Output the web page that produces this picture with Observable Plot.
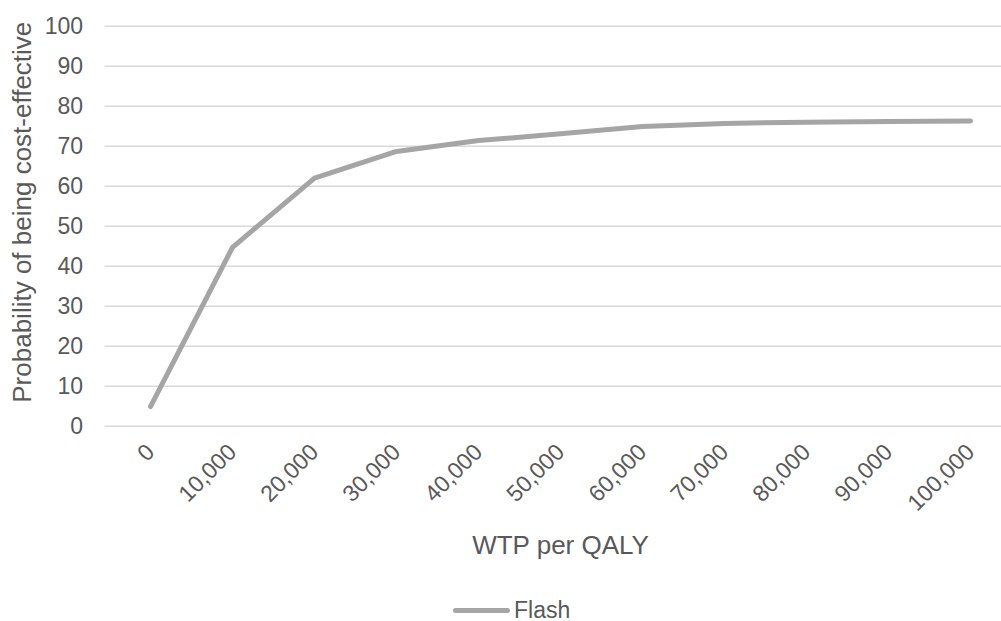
<!DOCTYPE html>
<html>
<head>
<meta charset="utf-8">
<script src="https://cdn.jsdelivr.net/npm/d3@7"></script>
<script src="https://cdn.jsdelivr.net/npm/@observablehq/plot@0.6"></script>
<style>
  html, body { margin: 0; padding: 0; background: #ffffff; }
  body { width: 1001px; height: 621px; position: relative; overflow: hidden; font-family: "Liberation Sans", Arial, sans-serif; }
  #chart { width: 1001px; overflow: hidden; }
  #chart svg { display: block; max-width: none; }
  #legend { position: absolute; left: 453px; top: 600px; height: 21px; display: flex; align-items: center; color: #595959; font-size: 23px; line-height: 21px; }
  #legend .sw { width: 57px; height: 5px; background: #a5a5a5; border-radius: 3px; margin-right: 4px; }
</style>
</head>
<body>
<div id="chart"></div>
<div id="legend"><span class="sw"></span><span>Flash</span></div>
<script>
const categories = ["0", "10,000", "20,000", "30,000", "40,000", "50,000", "60,000", "70,000", "80,000", "90,000", "100,000"];
const flash = [4.9, 44.7, 62.0, 68.7, 71.4, 73.1, 74.9, 75.7, 76.0, 76.2, 76.3];
const yTicks = [0, 10, 20, 30, 40, 50, 60, 70, 80, 90, 100];
const seriesName = "Flash";
const xTitle = "WTP per QALY";
const yTitle = "Probability of being cost-effective";

const data = categories.map((c, i) => ({wtp: c, p: flash[i], series: seriesName}));

const chart = Plot.plot({
  width: 1001,
  height: 580,
  marginLeft: 104.5,
  marginRight: -14.6,
  marginTop: 25.7,
  marginBottom: 154.3,
  style: {fontFamily: "'Liberation Sans', Arial, sans-serif", fontSize: "23px", color: "#595959", background: "#ffffff", overflow: "hidden"},
  x: {type: "point", domain: categories, padding: 0.5},
  y: {domain: [0, 100]},
  marks: [
    Plot.ruleY(yTicks, {stroke: "#d9d9d9", strokeWidth: 1.4}),
    Plot.axisY(yTicks, {tickSize: 0, tickPadding: 22, fontSize: 23, fill: "#595959", label: null}),
    Plot.text([yTitle], {frameAnchor: "left", textAnchor: "middle", lineAnchor: "middle", rotate: -90, dx: -82.5, dy: -14, fontSize: 26, fill: "#595959"}),
    Plot.axisX({tickSize: 0, tickRotate: -45, tickPadding: 22, fontSize: 23, fill: "#595959",
      label: xTitle, labelAnchor: "center", labelArrow: "none", labelOffset: 128}),
    Plot.lineY(data, {x: "wtp", y: "p", stroke: "#a5a5a5", strokeWidth: 5, strokeLinecap: "round", strokeLinejoin: "round"})
  ]
});
chart.querySelectorAll("g[aria-label='x-axis label'] text, g[aria-label='x-axis label']").forEach(el => el.setAttribute("font-size", "26"));
document.getElementById("chart").appendChild(chart);
</script>
</body>
</html>
